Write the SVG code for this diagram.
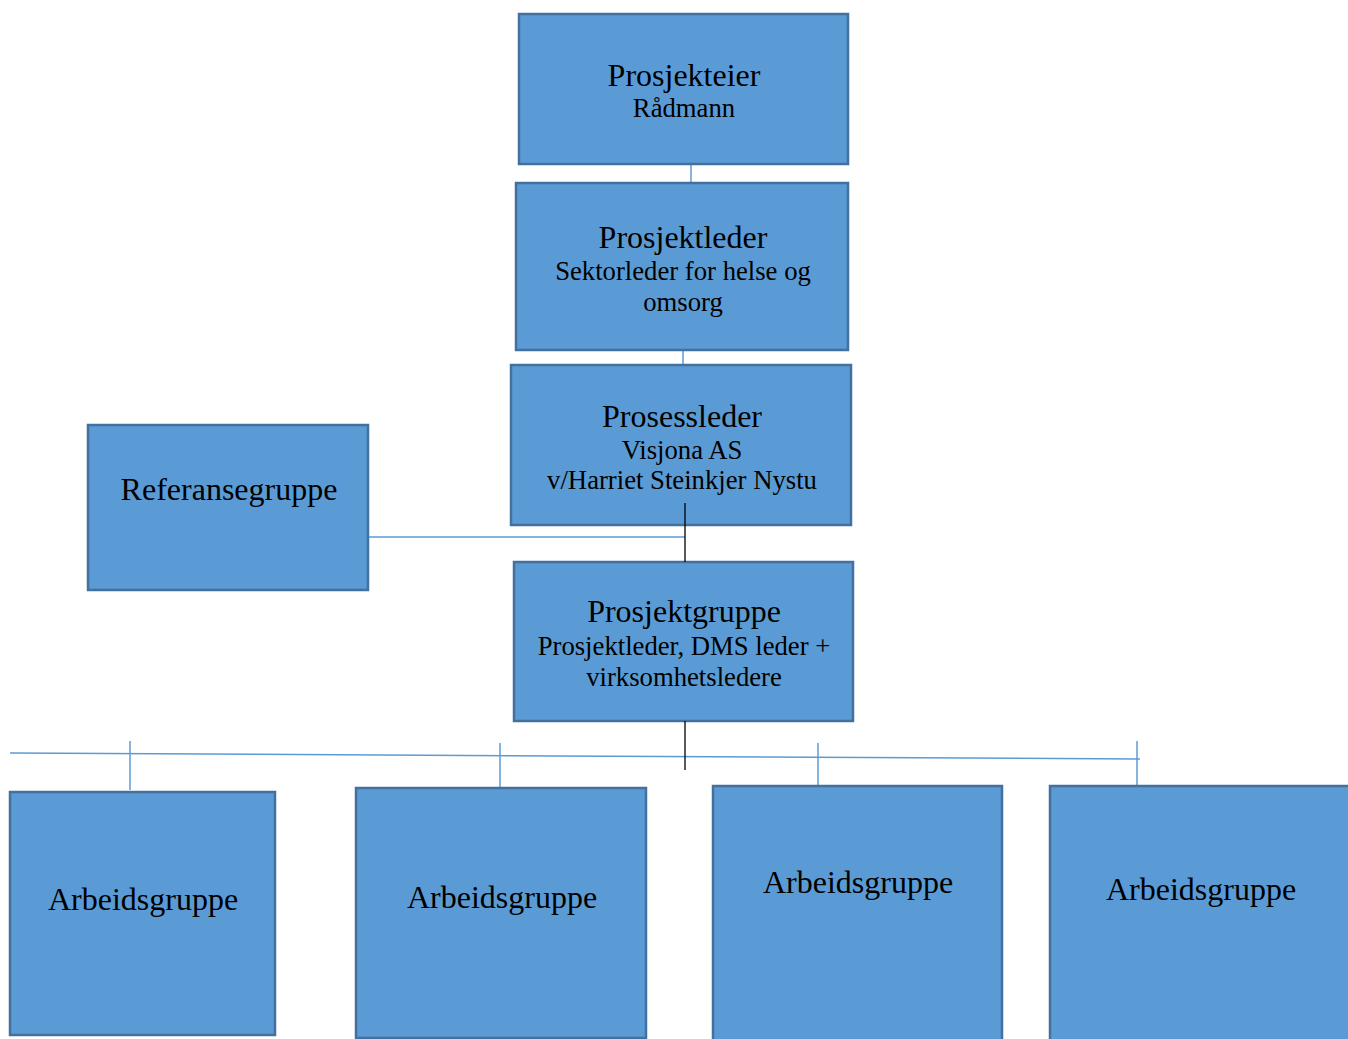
<svg xmlns="http://www.w3.org/2000/svg" width="1348" height="1039" viewBox="0 0 1348 1039">
<style>
.box{fill:#5B9BD5;stroke:#41719C;stroke-width:2.5}
.t{font-family:"Liberation Serif","Times New Roman",serif;font-size:32px;fill:#000;text-anchor:middle}
.s{font-family:"Liberation Serif","Times New Roman",serif;font-size:26.7px;fill:#000;text-anchor:middle}
.lb{stroke:#5B9BD5;stroke-width:1.5;fill:none}
.lk{stroke:#000;stroke-width:1.3;fill:none}
</style>
<rect width="1348" height="1039" fill="#fff"/>
<g id="connectors">
<line class="lb" x1="691" y1="164" x2="691" y2="184"/>
<line class="lb" x1="683" y1="350" x2="683" y2="366"/>
<line class="lb" x1="368" y1="537" x2="685" y2="537"/>
<line class="lb" x1="10" y1="753" x2="1140" y2="759"/>
<line class="lb" x1="130" y1="741" x2="130" y2="790"/>
<line class="lb" x1="500" y1="743" x2="500" y2="788"/>
<line class="lb" x1="818" y1="743" x2="818" y2="786"/>
<line class="lb" x1="1137" y1="741" x2="1137" y2="786"/>
</g>
<g id="prosjekteier">
<rect class="box" x="519" y="14" width="329" height="150"/>
<text class="t" x="684" y="86">Prosjekteier</text>
<text class="s" x="684" y="117">Rådmann</text>
</g>
<g id="prosjektleder">
<rect class="box" x="516" y="183" width="332" height="167"/>
<text class="t" x="683" y="248">Prosjektleder</text>
<text class="s" x="683" y="280">Sektorleder for helse og</text>
<text class="s" x="683" y="311">omsorg</text>
</g>
<g id="prosessleder">
<rect class="box" x="511" y="365" width="340" height="160"/>
<text class="t" x="682" y="427">Prosessleder</text>
<text class="s" x="682" y="459">Visjona AS</text>
<text class="s" x="682" y="489">v/Harriet Steinkjer Nystu</text>
</g>
<g id="referansegruppe">
<rect class="box" x="88" y="425" width="280" height="165"/>
<text class="t" x="229" y="500">Referansegruppe</text>
</g>
<g id="prosjektgruppe">
<rect class="box" x="514" y="562" width="339" height="159"/>
<text class="t" x="684" y="622">Prosjektgruppe</text>
<text class="s" x="684" y="655">Prosjektleder, DMS leder +</text>
<text class="s" x="684" y="686">virksomhetsledere</text>
</g>
<g id="black-connectors">
<line class="lk" x1="685" y1="503" x2="685" y2="562"/>
<line class="lk" x1="685" y1="721" x2="685" y2="770"/>
</g>
<g id="arbeidsgruppe1">
<rect class="box" x="10" y="792" width="265" height="243"/>
<text class="t" x="143" y="910">Arbeidsgruppe</text>
</g>
<g id="arbeidsgruppe2">
<rect class="box" x="356" y="788" width="290" height="250"/>
<text class="t" x="502" y="908">Arbeidsgruppe</text>
</g>
<g id="arbeidsgruppe3">
<rect class="box" x="713" y="786" width="289" height="260"/>
<text class="t" x="858" y="893">Arbeidsgruppe</text>
</g>
<g id="arbeidsgruppe4">
<rect class="box" x="1050" y="786" width="310" height="260"/>
<text class="t" x="1201" y="900">Arbeidsgruppe</text>
</g>
</svg>
